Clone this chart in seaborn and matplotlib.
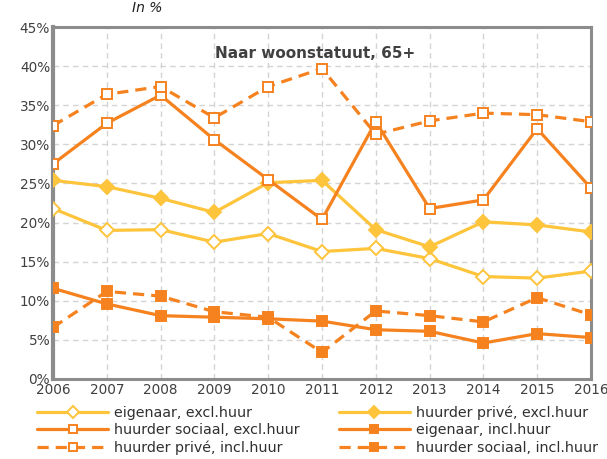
import pandas as pd
import seaborn as sns
import matplotlib.pyplot as plt

# jaren en waarden (in %)
jaren = [2006, 2007, 2008, 2009, 2010, 2011, 2012, 2013, 2014, 2015, 2016]

eigenaar_excl = [21.8, 19.0, 19.1, 17.5, 18.6, 16.3, 16.7, 15.4, 13.1, 12.9, 13.8]
huurder_prive_excl = [25.4, 24.6, 23.1, 21.3, 25.1, 25.4, 19.1, 16.9, 20.1, 19.7, 18.8]
huurder_sociaal_excl = [27.5, 32.7, 36.3, 30.6, 25.5, 20.4, 32.9, 21.8, 22.9, 32.0, 24.4]
eigenaar_incl = [11.6, 9.6, 8.1, 7.9, 7.7, 7.4, 6.3, 6.1, 4.6, 5.8, 5.3]
huurder_prive_incl = [32.4, 36.4, 37.4, 33.4, 37.4, 39.7, 31.3, 33.0, 34.0, 33.8, 32.9]
huurder_sociaal_incl = [6.6, 11.2, 10.6, 8.6, 7.9, 3.4, 8.7, 8.1, 7.3, 10.4, 8.2]

geel = "#FDC43C"
oranje = "#F5821F"

# (naam, waarden, kleur, marker, gevuld, streepjes)
reeksen = [
    ("eigenaar, excl.huur", eigenaar_excl, geel, "D", False, False),
    ("huurder privé, excl.huur", huurder_prive_excl, geel, "D", True, False),
    ("huurder sociaal, excl.huur", huurder_sociaal_excl, oranje, "s", False, False),
    ("eigenaar, incl.huur", eigenaar_incl, oranje, "s", True, False),
    ("huurder privé, incl.huur", huurder_prive_incl, oranje, "s", False, True),
    ("huurder sociaal, incl.huur", huurder_sociaal_incl, oranje, "s", True, True),
]

sns.set_theme(style="white")
plt.rcParams['font.family'] = ['DejaVu Sans']

fig = plt.figure(figsize=(6.07, 4.59), dpi=100)
ax = fig.add_axes([0.0873, 0.1743, 0.8863, 0.7667])

for naam, waarden, kleur, marker, gevuld, streep in reeksen:
    df = pd.DataFrame({"jaar": jaren, "waarde": waarden})
    ms = 7.5 if marker == "D" else 7
    sns.lineplot(data=df, x="jaar", y="waarde", ax=ax, color=kleur,
                 linewidth=2.3, marker=marker, markersize=ms,
                 markerfacecolor=kleur if gevuld else "white",
                 markeredgecolor=kleur, markeredgewidth=1.4,
                 linestyle=(0, (3.5, 2.2)) if streep else "-",
                 label=naam, zorder=3)

ax.set_xlim(2006, 2016)
ax.set_ylim(0, 45)
ax.set_xticks(jaren)
ax.set_xticklabels([str(j) for j in jaren])
ax.set_yticks(range(0, 46, 5))
ax.set_yticklabels([f"{v}%" for v in range(0, 46, 5)])
ax.set_xlabel("")
ax.set_ylabel("")
ax.tick_params(axis="both", labelsize=9.8, labelcolor="#404040", length=0, pad=2)
ax.tick_params(axis="x", pad=3)

ax.grid(True, color="#d4d4d4", linestyle=(0, (4, 3)), linewidth=1)
ax.set_axisbelow(True)
for kant in ax.spines.values():
    kant.set_color("#8c8c8c")
    kant.set_linewidth(2.2)
ax.spines["left"].set_linewidth(3)

ax.text(0.487, 0.925, "Naar woonstatuut, 65+", transform=ax.transAxes,
        ha="center", va="center", fontsize=11, fontweight="bold", color="#404040")
fig.text(0.242, 0.983, "In %", ha="center", va="center", fontsize=10,
         fontstyle="italic", color="#202020")

# legenda rij per rij zoals in het origineel
h, l = ax.get_legend_handles_labels()
volgorde = [0, 2, 4, 1, 3, 5]
ax.legend([h[i] for i in volgorde], [l[i] for i in volgorde],
          loc="upper left", bbox_to_anchor=(-0.03, -0.075), ncol=2,
          frameon=False, fontsize=10.3, handlelength=5.0, handletextpad=0.42,
          columnspacing=2.7, labelspacing=0.24, borderaxespad=0, borderpad=0,
          markerscale=0.8, labelcolor="#303030")

plt.savefig("out.png", dpi=100)
plt.close()
